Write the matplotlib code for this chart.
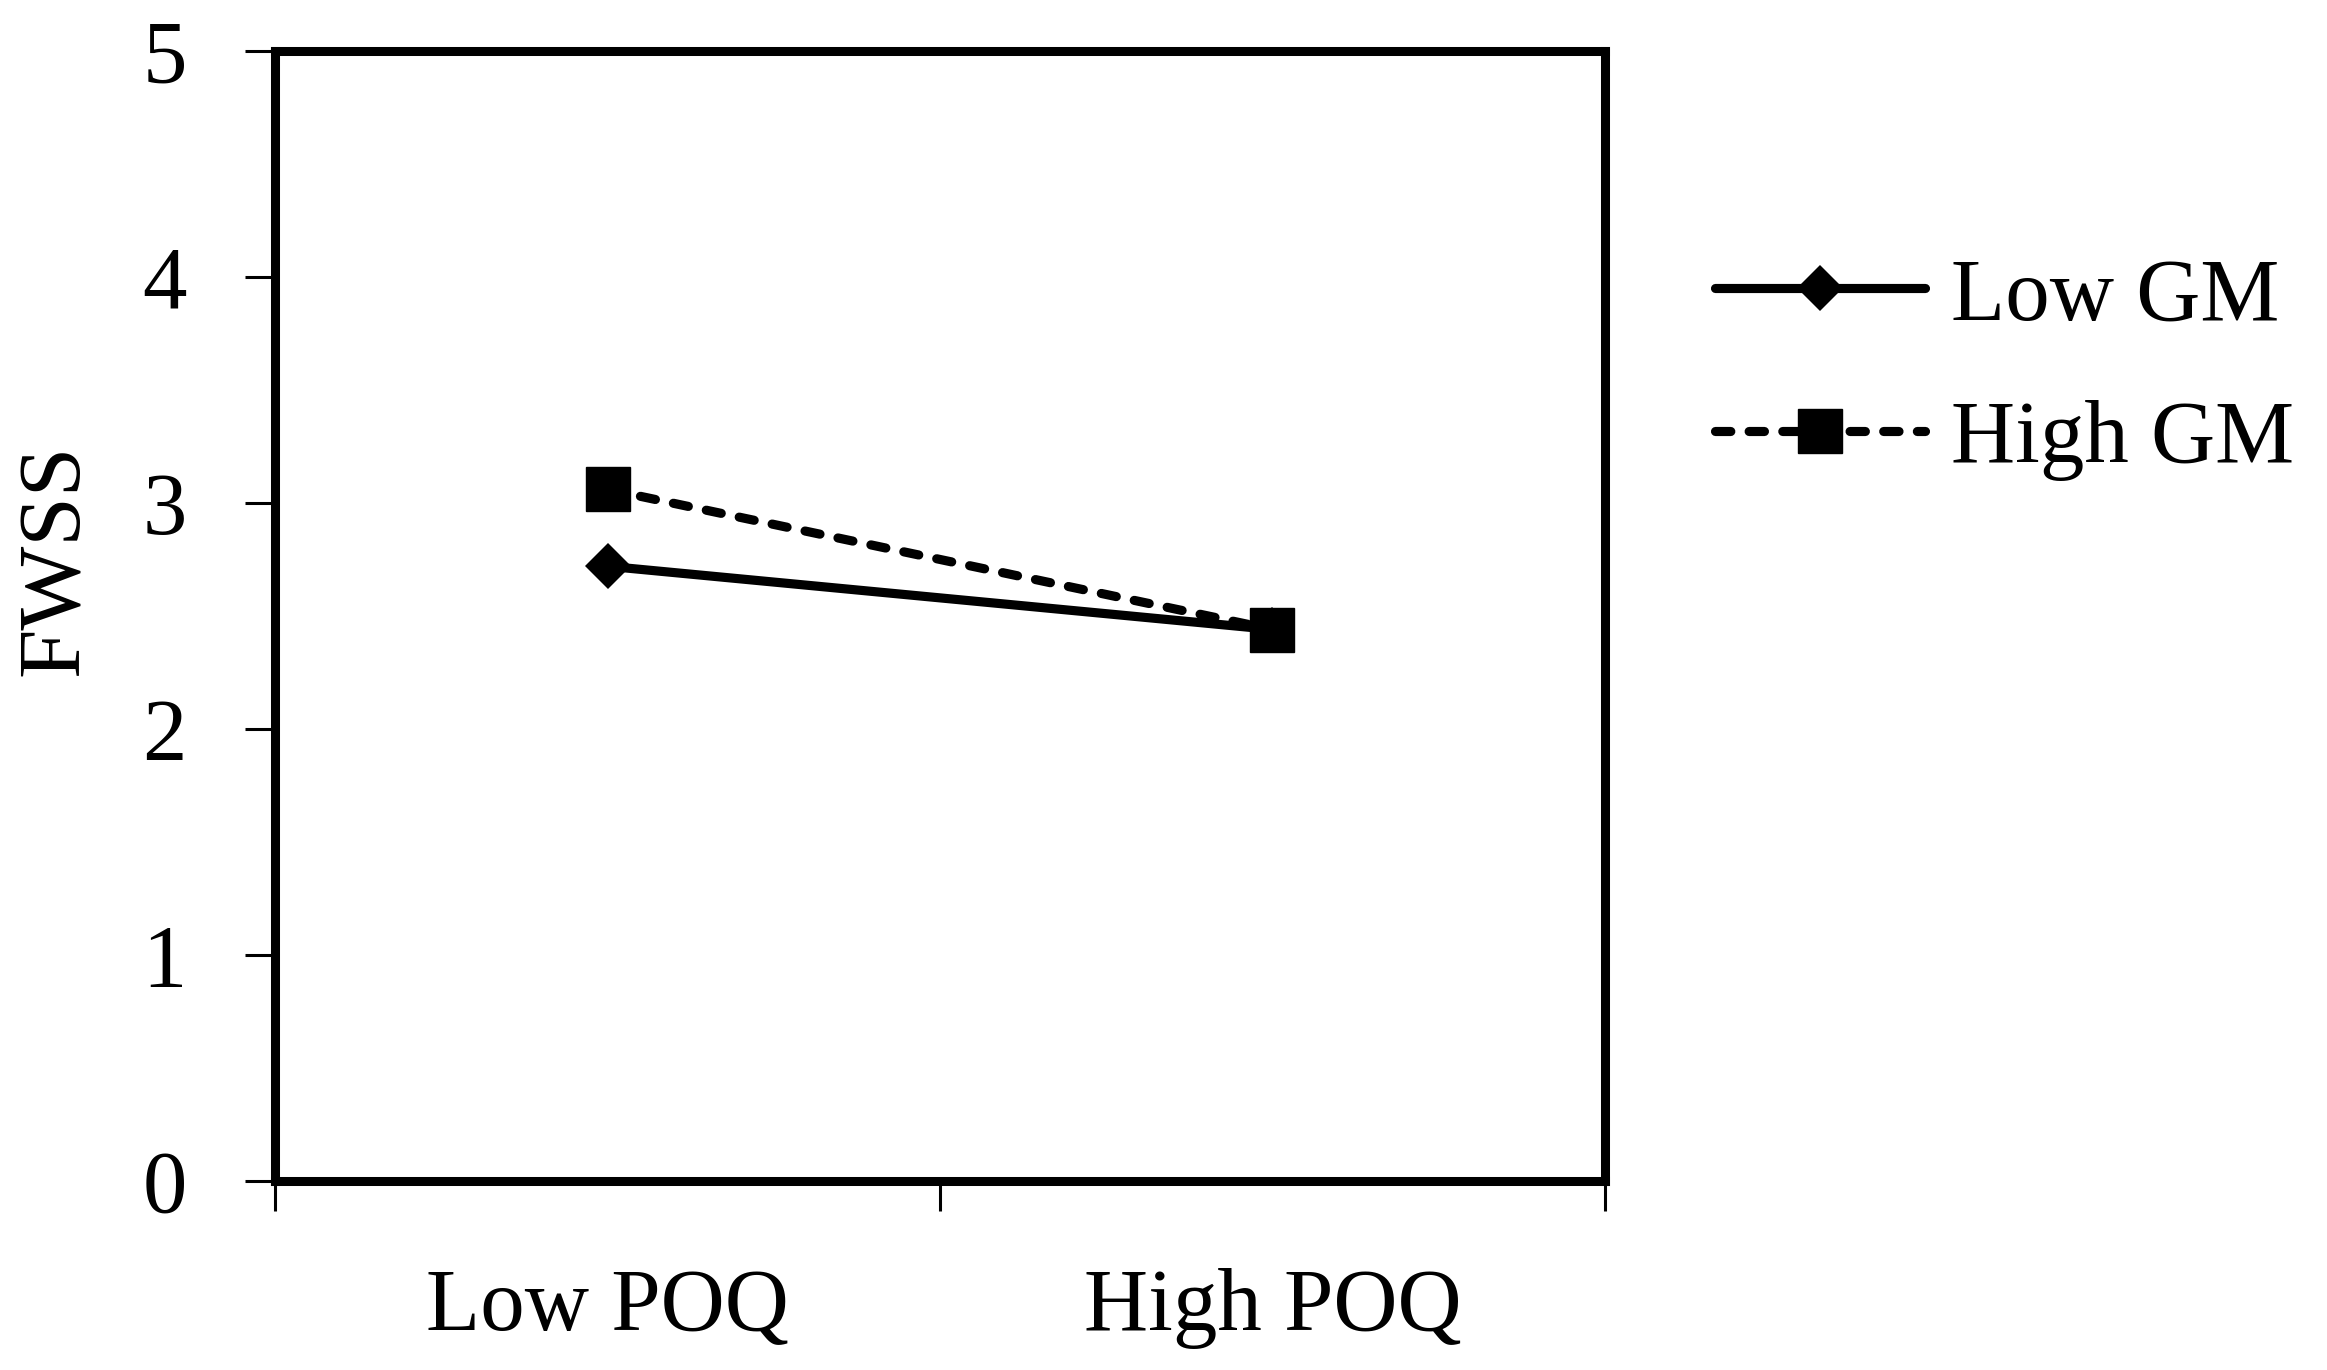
import matplotlib
matplotlib.use("Agg")
import matplotlib.pyplot as plt

# data
categories = ["Low POQ", "High POQ"]
low_gm = [2.72, 2.44]
high_gm = [3.06, 2.44]
series_names = ["Low GM", "High GM"]
y_ticks = [0, 1, 2, 3, 4, 5]

plt.rcParams['font.family'] = ['Liberation Serif', 'DejaVu Serif']

fig = plt.figure(figsize=(23.27, 13.70), dpi=100)
ax = fig.add_axes([0.1182, 0.1380, 0.5715, 0.8248])

x = list(range(len(categories)))
lw = 6.6

ax.plot(x, low_gm, color='black', linewidth=lw, linestyle='-',
        marker='D', markersize=23.4, markeredgewidth=0,
        solid_capstyle='round', label=series_names[0], zorder=3)
ax.plot(x, high_gm, color='black', linewidth=lw, linestyle=(0, (1.67, 2.0)),
        dash_capstyle='round', marker='s', markersize=32, markeredgewidth=1.0,
        markeredgecolor='black', label=series_names[1], zorder=4)

ax.set_xlim(-0.5, 1.5)
ax.set_ylim(0, 5)

ax.set_xticks(x)
ax.set_xticklabels(categories, fontsize=64)
ax.set_xticks([-0.5, 0.5, 1.5], minor=True)
ax.tick_params(axis='x', which='major', length=0, pad=63)
ax.tick_params(axis='x', which='minor', length=21.6, width=2.2, direction='out')

ax.set_yticks(y_ticks)
ax.set_yticklabels([str(t) for t in y_ticks], fontsize=64)
ax.tick_params(axis='y', which='major', length=21.6, width=2.2, direction='out', pad=42)

for s in ax.spines.values():
    s.set_linewidth(6.5)
    s.set_color('black')

ax.set_ylabel("FWSS", fontsize=64)
ax.yaxis.set_label_coords(-0.134, 0.55)

ax.legend(loc='center left', bbox_to_anchor=(1715 / 2327, 1 - 369 / 1370),
          bbox_transform=fig.transFigure, frameon=False, fontsize=64,
          numpoints=1, handlelength=2.36, handletextpad=0.3,
          labelspacing=0.69, borderpad=0, borderaxespad=0)

fig.savefig("out.png", dpi=100, facecolor='white')
